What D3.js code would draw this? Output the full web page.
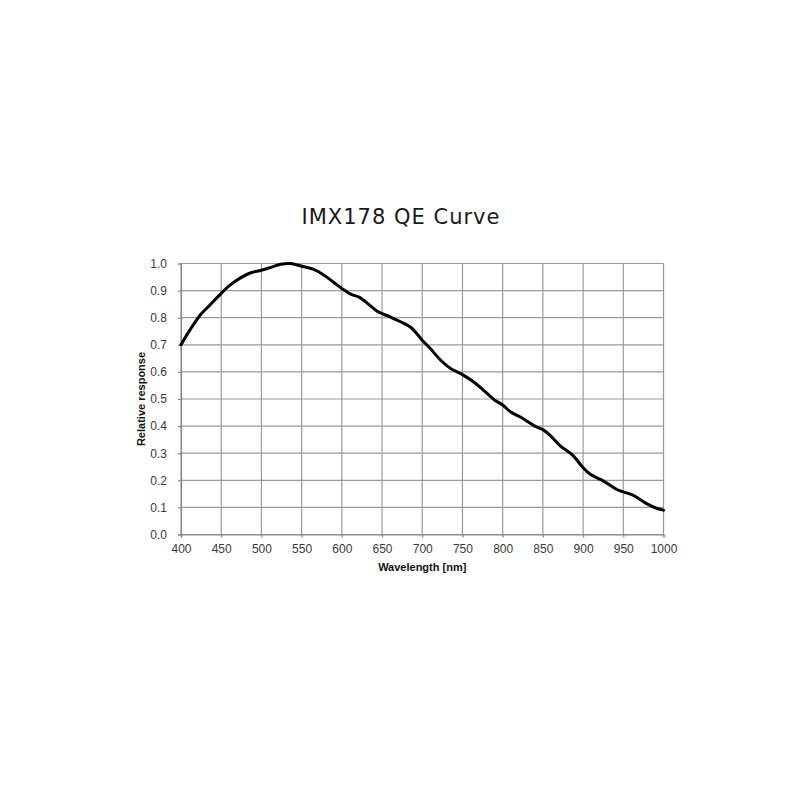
<!DOCTYPE html>
<html><head><meta charset="utf-8">
<script src="https://cdn.jsdelivr.net/npm/d3@7"></script>
<style>body{margin:0;background:#fff}</style>
</head><body>
<svg id="c" width="800" height="800"></svg>
<script>
const wavelengths = [400,411,424,436,450,461,474,486,500,511,524,536,550,565,578,590,600,611,622,633,644,660,673,686,700,710,723,735,750,764,776,790,800,810,823,840,850,859,872,887,899,909,925,942,962,979,992,1000];
const response = [0.70,0.754,0.81,0.847,0.89,0.92,0.947,0.965,0.975,0.985,0.997,1.0,0.99,0.978,0.957,0.93,0.908,0.887,0.875,0.85,0.824,0.803,0.785,0.764,0.717,0.686,0.643,0.613,0.59,0.563,0.533,0.496,0.478,0.452,0.432,0.4,0.387,0.366,0.326,0.293,0.25,0.222,0.198,0.166,0.145,0.114,0.096,0.09];
const xTicks = [400,450,500,550,600,650,700,750,800,850,900,950,1000];
const yTicks = [0,0.1,0.2,0.3,0.4,0.5,0.6,0.7,0.8,0.9,1.0];
const title = "IMX178 QE Curve";
const xLabel = "Wavelength [nm]";
const yLabel = "Relative response";

const svg = d3.select("#c");
const L = 181, R = 663.5, T = 263.5, B = 534.5;
const x = d3.scaleLinear().domain([400,1000]).range([L,R]);
const y = d3.scaleLinear().domain([0,1]).range([B,T]);

// grid
svg.append("g").selectAll("line").data(xTicks).join("line")
  .attr("x1",d=>x(d)).attr("x2",d=>x(d)).attr("y1",T).attr("y2",B)
  .attr("stroke","#9a9a9a").attr("stroke-width",1.2);
svg.append("g").selectAll("line").data(yTicks).join("line")
  .attr("x1",L).attr("x2",R).attr("y1",d=>y(d)).attr("y2",d=>y(d))
  .attr("stroke","#9a9a9a").attr("stroke-width",1.2);

// axes
const xa = svg.append("g").attr("transform",`translate(0,${B})`)
  .call(d3.axisBottom(x).tickValues(xTicks).tickSize(3).tickPadding(7).tickFormat(d3.format("d")));
const ya = svg.append("g").attr("transform",`translate(${L},0)`)
  .call(d3.axisLeft(y).tickValues(yTicks).tickSize(3).tickPadding(11).tickFormat(d3.format(".1f")));
[xa,ya].forEach(a=>{
  a.select(".domain").attr("stroke","#888").attr("stroke-width",1.2);
  a.selectAll(".tick line").attr("stroke","#888").attr("stroke-width",1.2);
  a.selectAll("text").attr("font-family","Liberation Sans, Arial, sans-serif")
    .attr("font-size",12).attr("fill","#3a3a3a");
});

// curve
const line = d3.line().x((d,i)=>x(wavelengths[i])).y(d=>y(d)).curve(d3.curveCatmullRom.alpha(0.5));
svg.append("path").datum(response).attr("d",line)
  .attr("fill","none").attr("stroke","#000").attr("stroke-width",3)
  .attr("stroke-linejoin","round").attr("stroke-linecap","round");

// title
svg.append("text").attr("x",401).attr("y",224).attr("text-anchor","middle")
  .attr("font-family","DejaVu Sans, sans-serif").attr("font-size",21).attr("letter-spacing",1)
  .attr("fill","#1a1a1a").text(title);

svg.append("text").attr("x",(L+R)/2).attr("y",571).attr("text-anchor","middle")
  .attr("font-family","Liberation Sans, Arial, sans-serif").attr("font-size",11).attr("font-weight","bold")
  .attr("fill","#111").text(xLabel);
svg.append("text").attr("transform",`translate(145,${(T+B)/2}) rotate(-90)`).attr("text-anchor","middle")
  .attr("font-family","Liberation Sans, Arial, sans-serif").attr("font-size",11).attr("font-weight","bold")
  .attr("fill","#111").text(yLabel);
</script>
</body></html>
